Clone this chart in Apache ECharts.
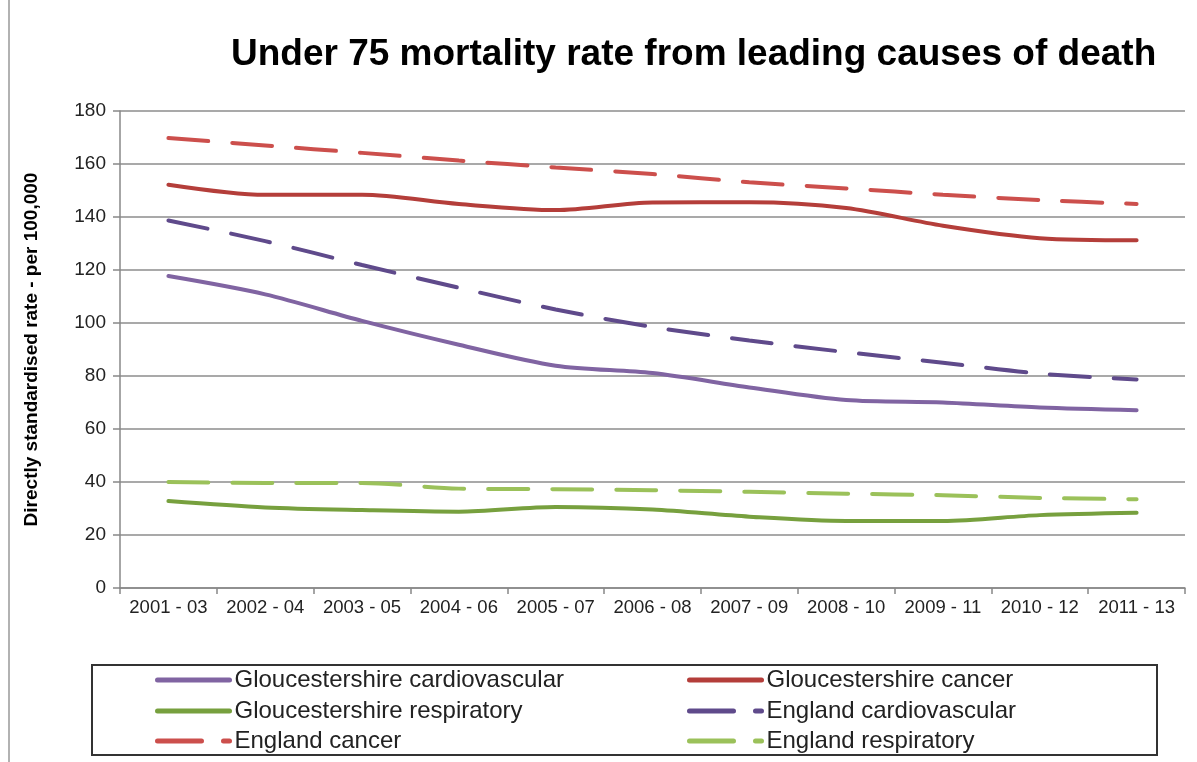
<!DOCTYPE html>
<html>
<head>
<meta charset="utf-8">
<script src="https://cdn.jsdelivr.net/npm/echarts@6/dist/echarts.min.js"></script>
<style>
  html, body { margin: 0; padding: 0; background: #fff; }
  #main { width: 1197px; height: 762px; }
</style>
</head>
<body>
<div id="main"></div>
<script>
// 数据
var periods = ['2001 - 03', '2002 - 04', '2003 - 05', '2004 - 06', '2005 - 07', '2006 - 08',
               '2007 - 09', '2008 - 10', '2009 - 11', '2010 - 12', '2011 - 13'];
var gloCardio = [117.7, 110.8, 100.8, 91.8, 83.9, 81.1, 75.7, 70.9, 70.0, 68.1, 67.1];
var gloCancer = [152.2, 148.4, 148.4, 144.9, 142.6, 145.5, 145.6, 143.4, 136.7, 132.0, 131.2];
var gloResp   = [32.8, 30.4, 29.4, 28.8, 30.6, 29.6, 26.9, 25.3, 25.3, 27.5, 28.4];
var engCardio = [138.7, 130.9, 121.9, 113.3, 105.1, 98.5, 93.4, 89.0, 85.0, 80.9, 78.7];
var engCancer = [169.8, 167.0, 164.2, 161.3, 158.7, 156.2, 153.1, 150.8, 148.4, 146.4, 144.9];
var engResp   = [40.0, 39.6, 39.6, 37.5, 37.3, 36.9, 36.3, 35.6, 35.0, 34.0, 33.5];
var yTicks = [0, 20, 40, 60, 80, 100, 120, 140, 160, 180];

var myChart = echarts.init(document.getElementById('main'));

var FONT = 'Liberation Sans';

function line(name, data, color, dashed) {
    return {
        name: name,
        type: 'line',
        data: data,
        smooth: 0.3,
        symbol: 'none',
        lineStyle: {
            color: color,
            width: 4,
            type: dashed ? [40, 24] : 'solid',
            cap: 'round'
        },
        itemStyle: { color: color }
    };
}

// 图例：每项单独放置，两列三行
function legendItem(name, left, cy, dashed) {
    return {
        left: left,
        top: cy - 13,
        padding: 0,
        itemWidth: 72,
        itemHeight: 14,
        itemStyle: { opacity: 0 },
        lineStyle: { width: 5, type: dashed ? [44, 22] : 'solid', cap: 'round' },
        textStyle: { fontFamily: FONT, fontSize: 24, lineHeight: 26, color: '#222' },
        data: [name]
    };
}

var option = {
    animation: false,
    title: {
        text: 'Under 75 mortality rate from leading causes of death',
        left: 226,
        top: 31,
        textStyle: {
            fontFamily: FONT,
            fontWeight: 'bold',
            fontSize: 37,
            color: '#000'
        }
    },
    grid: {
        left: 120,
        right: 12,
        top: 111,
        bottom: 174
    },
    legend: [
        legendItem('Gloucestershire cardiovascular', 155, 680, false),
        legendItem('Gloucestershire respiratory', 155, 711, false),
        legendItem('England cancer', 155, 741, true),
        legendItem('Gloucestershire cancer', 687, 680, false),
        legendItem('England cardiovascular', 687, 711, true),
        legendItem('England respiratory', 687, 741, true)
    ],
    xAxis: {
        type: 'category',
        data: periods,
        boundaryGap: true,
        axisLine: { lineStyle: { color: '#888', width: 1.5 } },
        axisTick: { show: true, length: 6, lineStyle: { color: '#888', width: 1.5 } },
        axisLabel: {
            interval: 0,
            margin: 10,
            fontFamily: FONT,
            fontSize: 18.5,
            color: '#222'
        }
    },
    yAxis: {
        type: 'value',
        min: 0,
        max: 180,
        interval: 20,
        name: 'Directly standardised rate - per 100,000',
        nameLocation: 'middle',
        nameGap: 79,
        nameTextStyle: {
            fontFamily: FONT,
            fontWeight: 'bold',
            fontSize: 19,
            color: '#000'
        },
        axisLine: { show: true, lineStyle: { color: '#888', width: 1.5 } },
        axisTick: { show: true, length: 7, lineStyle: { color: '#888', width: 1.5 } },
        axisLabel: {
            margin: 14,
            fontFamily: FONT,
            fontSize: 19,
            color: '#222',
            formatter: function (v) { return yTicks.indexOf(v) >= 0 ? String(v) : ''; }
        },
        splitLine: { lineStyle: { color: '#8c8c8c', width: 1.5 } }
    },
    graphic: [{
        type: 'rect',
        shape: { x: 92, y: 665, width: 1065, height: 90 },
        style: { fill: 'none', stroke: '#333', lineWidth: 2 },
        z: -1
    }, {
        type: 'line',
        shape: { x1: 9, y1: 0, x2: 9, y2: 762 },
        style: { stroke: '#999', lineWidth: 1.5 }
    }],
    series: [
        line('Gloucestershire cardiovascular', gloCardio, '#8064A2', false),
        line('Gloucestershire cancer', gloCancer, '#B43E3A', false),
        line('Gloucestershire respiratory', gloResp, '#77A03E', false),
        line('England cardiovascular', engCardio, '#5F4A8B', true),
        line('England cancer', engCancer, '#CC4F4C', true),
        line('England respiratory', engResp, '#9BC15A', true)
    ]
};

myChart.setOption(option);
</script>
</body>
</html>
